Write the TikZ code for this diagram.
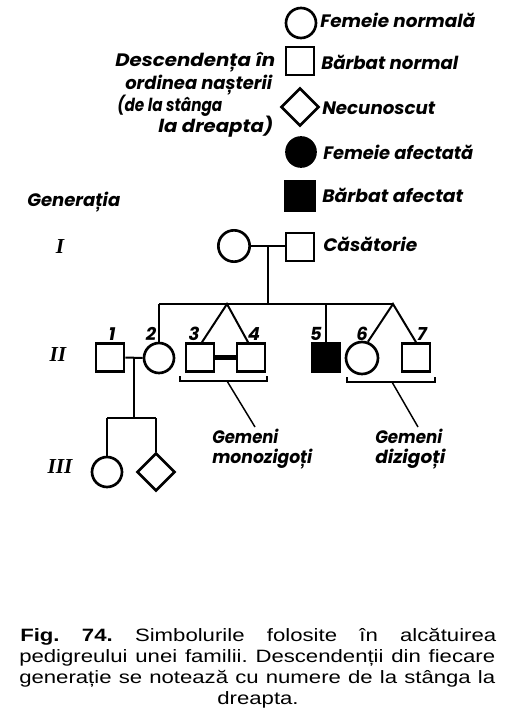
\documentclass[tikz,border=0pt]{standalone}
\usepackage{fontspec}
\setmainfont{Liberation Sans}
\newfontfamily\labfont{Poppins}
\newfontfamily\capfont{Liberation Sans}
\newfontfamily\romfont{Liberation Serif}
\usetikzlibrary{shapes.geometric,calc}
\newcommand\fitw[2]{\resizebox{#1pt}{\height}{#2}}
\newcommand\capline[1]{\scalebox{1.24}[1]{\makebox[287.9pt][s]{#1}}}
\begin{document}
\frenchspacing
\begin{tikzpicture}[x=0.75pt,y=-0.75pt,
  ln/.style={line width=1.5pt},
  thin/.style={line width=1.1pt},
  fem/.style={circle,draw,line width=2pt,inner sep=0pt,minimum size=22.5pt},
  mal/.style={rectangle,draw,line width=2pt,inner sep=0pt,minimum size=21pt},
  unk/.style={diamond,draw,line width=2pt,inner sep=0pt,minimum size=28.5pt},
  aff/.style={fill=black},
  lbl/.style={font=\labfont\bfseries\itshape\fontsize{13.5}{15}\selectfont,inner sep=0pt,anchor=base west},
  num/.style={font=\labfont\bfseries\itshape\fontsize{13.5}{15}\selectfont,inner sep=0pt,anchor=base},
  rom/.style={font=\romfont\bfseries\itshape\fontsize{16}{18}\selectfont,inner sep=0pt},
  capt/.style={font=\capfont\fontsize{13.4}{15.75}\selectfont,inner sep=0pt,anchor=base west}
]
\useasboundingbox (0,0) rectangle (516,727);
\fill[white] (0,0) rectangle (516,727);

% legend
\node[fem] (lc1) at (301,23) {};
\node[lbl] (tc1) at (320,28) {\fitw{116.25}{Femeie normală}};
\node[mal] (ls1) at (300,61) {};
\node[lbl] (ts1) at (321,70) {\fitw{102.75}{Bărbat normal}};
\node[unk] (ld) at (300,107) {};
\node[lbl] (td) at (322,115) {\fitw{84.75}{Necunoscut}};
\node[fem,aff,minimum size=21.75pt] (lc2) at (301,152) {};
\node[lbl] (tc2) at (323,160) {\fitw{112.5}{Femeie afectată}};
\node[mal,aff,minimum size=21.75pt] (ls2) at (300,196) {};
\node[lbl] (ts2) at (322,203) {\fitw{105.75}{Bărbat afectat}};

\node[lbl] (d1) at (115,67) {\fitw{120}{Descendența în}};
\node[lbl] (d2) at (125,90) {\fitw{110.25}{ordinea nașterii}};
\node[lbl] (d3) at (117,112) {\fitw{78.75}{(de la stânga}};
\node[lbl] (d4) at (158,133) {\fitw{86.25}{la dreapta)}};

\node[lbl] (gen) at (27,206) {\fitw{69.75}{Generația}};
\node[rom] (r1) at (60,247) {I};
\node[rom] (r2) at (58,355) {II};
\node[rom] (r3) at (60,467) {III};

% generation I
\node[fem,minimum size=23.5pt] (g1f) at (234,246) {};
\node[mal] (g1m) at (300,247) {};
\node[lbl] (tcas) at (323,251) {\fitw{70.5}{Căsătorie}};
\coordinate (g1mid) at (268,246);
\coordinate (g1drop) at (268,304);
\draw[ln] (g1f.east) -- (g1f.east -| g1m.west);
\draw[ln] (g1mid) -- (g1drop);

% generation II
\node[mal] (ii1) at (110,357.5) {};
\node[fem] (ii2) at (159,358) {};
\node[mal] (ii3) at (200,357.5) {};
\node[mal] (ii4) at (251,357.5) {};
\node[mal,aff] (ii5) at (326,357.5) {};
\node[fem,minimum size=24pt] (ii6) at (362,358) {};
\node[mal] (ii7) at (416,357.5) {};

\node[num] (n1) at (112,340) {1};
\node[num] (n2) at (151,340) {2};
\node[num] (n3) at (194,340) {3};
\node[num] (n4) at (254,340) {4};
\node[num] (n5) at (316,340) {5};
\node[num] (n6) at (362,340) {6};
\node[num] (n7) at (422,340) {7};

\coordinate (sibL) at (159,304);
\coordinate (sibR) at (393,304);
\coordinate (mz) at (227,304);
\coordinate (s5) at (326,304);
\draw[ln] (sibL) -- (sibR);
\draw[ln] (sibL) -- (ii2.north);
\draw[ln] ($(ii3.north)+(2,0)$) -- (mz) -- ($(ii4.north)+(-3,0)$);
\draw[line width=3.6pt] (ii3.east) -- (ii4.west);
\draw[ln] (s5) -- (ii5.north);
\draw[ln] (ii6.70) -- (sibR) -- (ii7.north);

% brackets
\coordinate (bmL) at (180,381);
\coordinate (bmR) at (267,381);
\coordinate (bmM) at (227,381);
\coordinate (bmE) at (255,427);
\draw[ln] ($(bmL)+(0,-5)$) -- (bmL) -- (bmR) -- ($(bmR)+(0,-5)$);
\draw[thin] (bmM) -- (bmE);
\coordinate (bdL) at (347,382);
\coordinate (bdR) at (435,382);
\coordinate (bdM) at (392,382);
\coordinate (bdE) at (418,427);
\draw[ln] ($(bdL)+(0,-5)$) -- (bdL) -- (bdR) -- ($(bdR)+(0,-5)$);
\draw[thin] (bdM) -- (bdE);
\node[lbl] (gm1) at (212,443) {\fitw{49.5}{Gemeni}};
\node[lbl] (gm2) at (212,463) {\fitw{75}{monozigoți}};
\node[lbl] (gd1) at (375,443) {\fitw{50.25}{Gemeni}};
\node[lbl] (gd2) at (375,463) {\fitw{52.5}{dizigoți}};

% generation III
\coordinate (m2) at (134,357.5);
\coordinate (m2drop) at (134,418);
\draw[ln] (ii1.east) -- (ii2.west);
\draw[ln] (m2) -- (m2drop);
\node[fem] (iii1) at (107,472) {};
\node[unk] (iii2) at (156,472) {};
\coordinate (s3L) at (107,418);
\coordinate (s3R) at (156,418);
\draw[ln] (s3L) -- (s3R);
\draw[ln] (s3L) -- (iii1.north);
\draw[ln] (s3R) -- (iii2.north);

% caption
\node[capt] (c1) at (20,641) {\capline{\textbf{Fig. 74.} Simbolurile folosite în alcătuirea}};
\node[capt] (c2) at (19,662) {\capline{pedigreului unei familii. Descendenții din fiecare}};
\node[capt] (c3) at (19,683) {\capline{generație se notează cu numere de la stânga la}};
\node[capt,anchor=base] (c4) at (258,704) {\scalebox{1.24}[1]{dreapta.}};
\end{tikzpicture}
\end{document}
